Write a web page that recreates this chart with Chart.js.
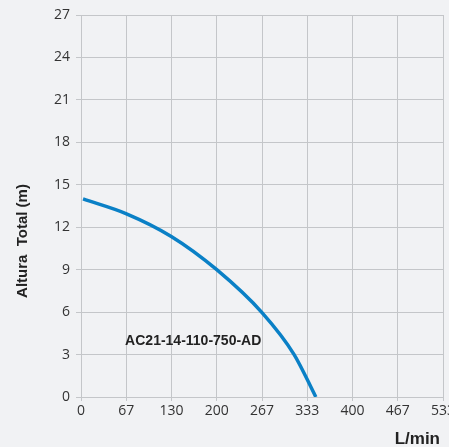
<!DOCTYPE html>
<html>
<head>
<meta charset="utf-8">
<script src="https://cdn.jsdelivr.net/npm/chart.js@4"></script>
<style>
  html, body { margin: 0; padding: 0; background: #f1f2f4; }
  #wrap { width: 449px; height: 447px; position: relative; }
</style>
</head>
<body>
<div id="wrap"><canvas id="pumpChart"></canvas></div>
<script>
// pump curve, flow in L/min against head in m
var flow = [3, 67, 133, 200, 267, 314, 346];
var head = [14, 12.95, 11.35, 9.0, 5.95, 3.0, 0];

var xTickValues = [0, 66.67, 133.33, 200, 266.67, 333.33, 400, 466.67, 533.33];
var xTickLabels = ['0', '67', '130', '200', '267', '333', '400', '467', '533'];
var yTicks = [0, 3, 6, 9, 12, 15, 18, 21, 24, 27];

var modelName = 'AC21-14-110-750-AD';
var yTitle = 'Altura  Total (m)';
var xTitle = 'L/min';

var gridColor = '#c4c6c9';
var tickFont = { family: "'Liberation Sans Narrow', 'Open Sans', sans-serif", size: 14 };

// texts that sit outside the normal chart.js title boxes
var textPlugin = {
    id: 'texts',
    afterDraw: function(chart) {
        var ctx = chart.ctx;
        var xs = chart.scales.x, ys = chart.scales.y;
        ctx.save();
        ctx.fillStyle = '#222';
        ctx.font = "bold 14px 'Liberation Sans', Arial, sans-serif";
        ctx.textAlign = 'left';
        ctx.textBaseline = 'alphabetic';
        ctx.fillText(modelName, xs.getPixelForValue(65), ys.getPixelForValue(3.7));

        ctx.font = "bold 17px 'Liberation Sans', Arial, sans-serif";
        ctx.textAlign = 'right';
        ctx.fillText(xTitle, 440, 444);

        ctx.translate(27, 241);
        ctx.rotate(-Math.PI / 2);
        ctx.font = "bold 15px 'Liberation Sans', Arial, sans-serif";
        ctx.textAlign = 'center';
        ctx.fillText(yTitle, 0, 0);
        ctx.restore();
    }
};

window.onload = function() {
    var ctx = document.getElementById('pumpChart');
    new Chart(ctx, {
        type: 'line',
        data: {
            datasets: [{
                data: flow.map(function(f, i) { return { x: f, y: head[i] }; }),
                borderColor: '#0a80c6',
                borderWidth: 3.5,
                pointRadius: 0,
                cubicInterpolationMode: 'monotone',
                fill: false
            }]
        },
        options: {
            responsive: true,
            maintainAspectRatio: false,
            animation: false,
            layout: { padding: { top: 15, right: 6, left: 0, bottom: 0 } },
            plugins: { legend: { display: false }, tooltip: { enabled: false } },
            scales: {
                x: {
                    type: 'linear',
                    min: 0,
                    max: 533.33,
                    afterBuildTicks: function(s) {
                        s.ticks = xTickValues.map(function(v) { return { value: v }; });
                    },
                    afterFit: function(s) {
                        s.height = 50;
                        s.paddingLeft = 0;
                        s.paddingRight = 0;
                    },
                    ticks: {
                        autoSkip: false,
                        maxRotation: 0,
                        padding: 2,
                        color: '#333',
                        font: tickFont,
                        callback: function(v, i) { return xTickLabels[i]; }
                    },
                    grid: { color: gridColor, lineWidth: 1, tickLength: 4 },
                    border: { color: gridColor, width: 1 }
                },
                y: {
                    min: 0,
                    max: 27,
                    afterBuildTicks: function(s) {
                        s.ticks = yTicks.map(function(v) { return { value: v }; });
                    },
                    afterFit: function(s) {
                        s.width = 81;
                        s.paddingTop = 0;
                        s.paddingBottom = 0;
                    },
                    ticks: {
                        padding: 6,
                        color: '#333',
                        font: tickFont
                    },
                    grid: { color: gridColor, lineWidth: 1, tickLength: 5 },
                    border: { color: gridColor, width: 1 }
                }
            }
        },
        plugins: [textPlugin]
    });
};
</script>
</body>
</html>
